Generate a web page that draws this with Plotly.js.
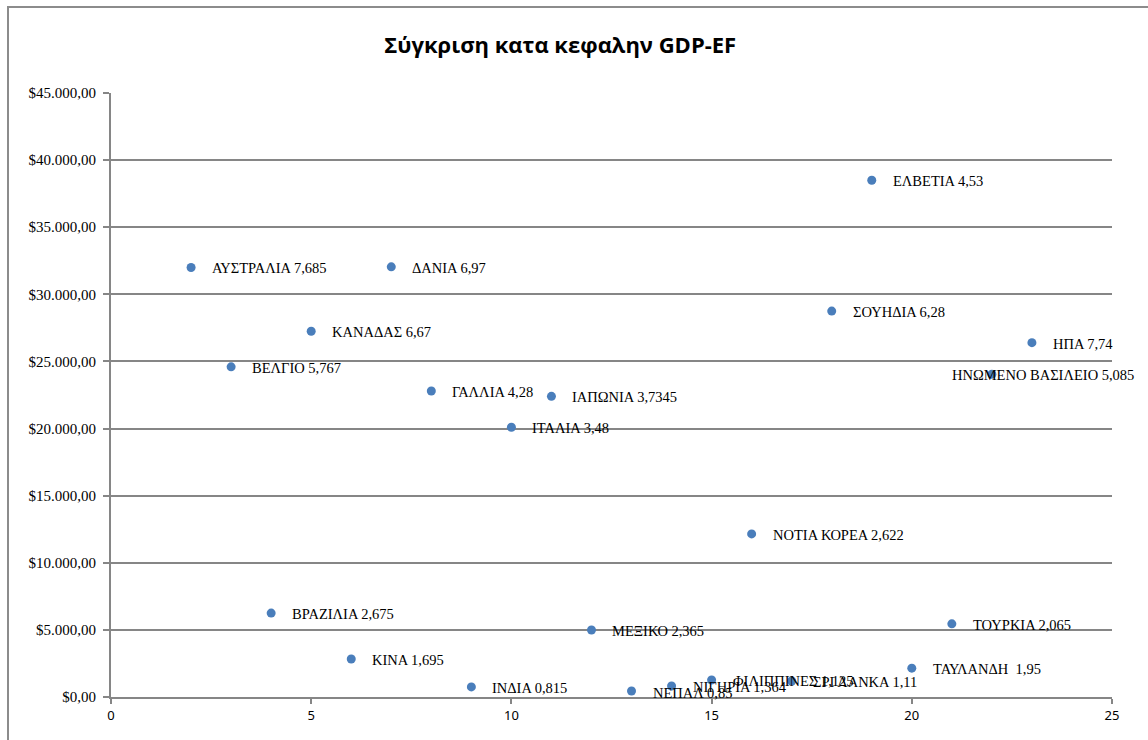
<!DOCTYPE html>
<html>
<head>
<meta charset="utf-8">
<script src="https://cdn.plot.ly/plotly-3.0.1.min.js"></script>
<style>
html,body{margin:0;padding:0;background:#fff;}
#chart{position:absolute;left:0;top:0;width:1148px;height:740px;}
#frame{position:absolute;left:7px;top:6px;width:1160px;height:760px;border:2px solid #8c8c8c;pointer-events:none;box-sizing:border-box;}
</style>
</head>
<body>
<div id="chart"></div>
<div id="frame"></div>
<script>
// Data
const countries = ["ΑΥΣΤΡΑΛΙΑ","ΒΕΛΓΙΟ","ΒΡΑΖΙΛΙΑ","ΚΑΝΑΔΑΣ","ΚΙΝΑ","ΔΑΝΙΑ","ΓΑΛΛΙΑ","ΙΝΔΙΑ","ΙΤΑΛΙΑ","ΙΑΠΩΝΙΑ","ΜΕΞΙΚΟ","ΝΕΠΑΛ","ΝΙΓΗΡΙΑ","ΦΙΛΙΠΠΙΝΕΣ","ΝΟΤΙΑ ΚΟΡΕΑ","ΣΡΙ ΛΑΝΚΑ","ΣΟΥΗΔΙΑ","ΕΛΒΕΤΙΑ","ΤΑΥΛΑΝΔΗ ","ΤΟΥΡΚΙΑ","ΗΝΩΜΕΝΟ ΒΑΣΙΛΕΙΟ","ΗΠΑ"];
const xIndex = [2,3,4,5,6,7,8,9,10,11,12,13,14,15,16,17,18,19,20,21,22,23];
const gdpPerCapita = [32000,24600,6250,27250,2830,32050,22800,750,20100,22400,4990,450,820,1270,12150,1190,28750,38500,2150,5450,24050,26400];
const efLabels = ["7,685","5,767","2,675","6,67","1,695","6,97","4,28","0,815","3,48","3,7345","2,365","0,85","1,364","1,125","2,622","1,11","6,28","4,53","1,95","2,065","5,085","7,74"];
const yTickVals = [0,5000,10000,15000,20000,25000,30000,35000,40000,45000];
const yTickText = ["$0,00","$5.000,00","$10.000,00","$15.000,00","$20.000,00","$25.000,00","$30.000,00","$35.000,00","$40.000,00","$45.000,00"];
const xTickVals = [0,5,10,15,20,25];

const labels = countries.map((c,i)=>c+" "+efLabels[i]);

const trace = {
  type:"scatter", mode:"markers",
  x:xIndex, y:gdpPerCapita,
  marker:{color:"#4A7EBB", size:9},
  hoverinfo:"skip", showlegend:false
};

const annotations = labels.map((t,i)=>{
  const wide = countries[i]==="ΗΝΩΜΕΝΟ ΒΑΣΙΛΕΙΟ";
  return {
    x:xIndex[i], y:gdpPerCapita[i], xref:"x", yref:"y",
    text:t, showarrow:false,
    xanchor: wide ? "center" : "left",
    xshift: wide ? 51 : 19,
    yshift: countries[i]==="ΝΕΠΑΛ" ? -2 : -1,
    font:{family:"Liberation Serif, serif", size:14.5, color:"#000"}
  };
});

const layout = {
  width:1148, height:740,
  margin:{l:111, r:36, t:93, b:43, pad:0},
  paper_bgcolor:"#fff", plot_bgcolor:"#fff",
  title:{text:"<b>Σύγκριση κατα κεφαλην GDP-EF</b>", x:0.488, xanchor:"center", y:1-45/740, yanchor:"middle", yref:"container",
    font:{family:"Open Sans, sans-serif", size:22, color:"#000"}},
  xaxis:{range:[0,25], tickvals:xTickVals, ticktext:xTickVals.map(String),
    showgrid:false, zeroline:false, showline:true, linecolor:"#868686", linewidth:2,
    ticks:"outside", ticklen:5, tickcolor:"#868686", tickwidth:2,
    tickfont:{family:"Noto Sans, sans-serif", size:13, color:"#000"}},
  yaxis:{range:[0,45000], tickvals:yTickVals, ticktext:yTickText,
    showgrid:true, gridcolor:"#868686", gridwidth:2, zeroline:false,
    showline:true, linecolor:"#868686", linewidth:2,
    ticks:"outside", ticklen:6, tickcolor:"#868686", tickwidth:2, ticklabelstandoff:4,
    tickfont:{family:"Liberation Serif, serif", size:15, color:"#000"}},
  annotations:annotations
};

Plotly.newPlot("chart",[trace],layout,{staticPlot:true, displayModeBar:false});
</script>
</body>
</html>
